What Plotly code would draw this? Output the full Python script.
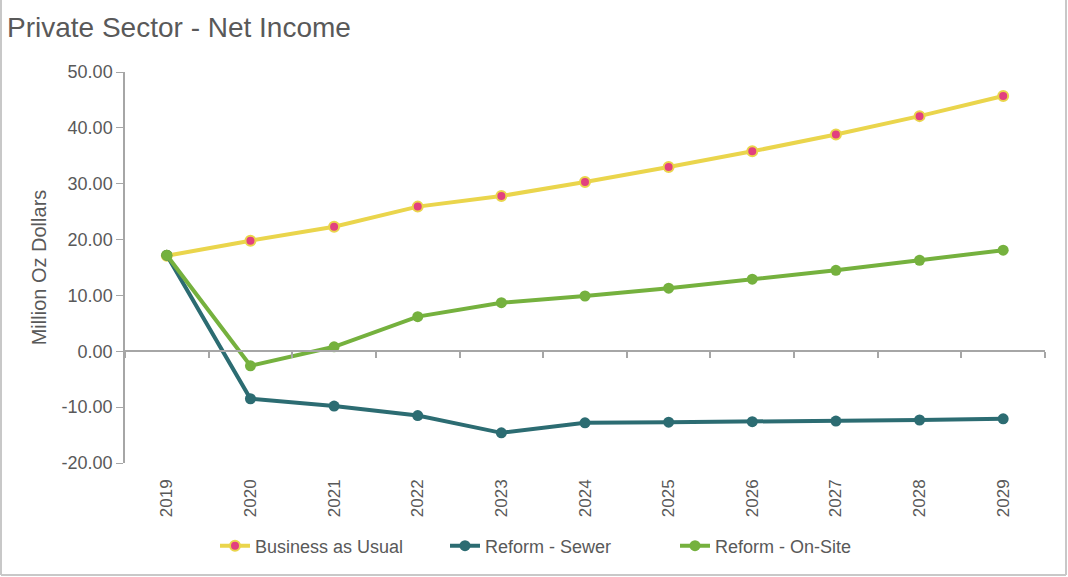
import plotly.graph_objects as go

years = ["2019", "2020", "2021", "2022", "2023", "2024", "2025", "2026", "2027", "2028", "2029"]
bau = [17.1, 19.8, 22.3, 25.9, 27.8, 30.3, 33.0, 35.8, 38.8, 42.1, 45.7]
sewer = [17.2, -8.5, -9.8, -11.5, -14.6, -12.8, -12.7, -12.6, -12.5, -12.3, -12.1]
onsite = [17.2, -2.6, 0.8, 6.2, 8.7, 9.9, 11.3, 12.9, 14.5, 16.3, 18.1]
y_ticks = [-20, -10, 0, 10, 20, 30, 40, 50]
y_tick_text = ["-20.00", "-10.00", "0.00", "10.00", "20.00", "30.00", "40.00", "50.00"]

GRAY_TXT = "#595959"
AXIS = "#A6A6A6"
W, H = 1068, 577
ML, MR, MT, MB = 125, 23, 72, 114
PW, PH = W - ML - MR, H - MT - MB
YMIN, YMAX = -20, 50

fig = go.Figure()
fig.add_trace(go.Scatter(
    x=years, y=bau, name="Business as Usual", mode="lines+markers",
    line=dict(color="#EAD54C", width=4),
    marker=dict(color="#E2407F", size=10, line=dict(color="#EAD54C", width=2)),
))
fig.add_trace(go.Scatter(
    x=years, y=sewer, name="Reform - Sewer", mode="lines+markers",
    line=dict(color="#2C6C72", width=4),
    marker=dict(color="#2C6C72", size=11),
))
fig.add_trace(go.Scatter(
    x=years, y=onsite, name="Reform - On-Site", mode="lines+markers",
    line=dict(color="#75B13E", width=4),
    marker=dict(color="#75B13E", size=11),
))
# helper trace so the zero-line axis renders
fig.add_trace(go.Scatter(x=years, y=[None] * len(years), xaxis="x2", showlegend=False,
                         hoverinfo="skip"))

zero_pos = (0 - YMIN) / (YMAX - YMIN)

fig.update_layout(
    width=W, height=H,
    margin=dict(l=ML, r=MR, t=MT, b=MB, autoexpand=False),
    paper_bgcolor="white", plot_bgcolor="white",
    font=dict(family="Liberation Sans, Arial, sans-serif", color=GRAY_TXT, size=18),
    title=dict(text="Private Sector - Net Income", x=7 / W, xanchor="left",
               yref="container", y=1 - 27 / H, yanchor="middle",
               font=dict(size=28, color=GRAY_TXT)),
    xaxis=dict(type="category", showline=False, showgrid=False, zeroline=False,
               tickangle=-90, ticks="", ticklabelstandoff=12, automargin=False,
               tickfont=dict(size=17, color=GRAY_TXT), range=[-0.5, 10.5]),
    xaxis2=dict(type="category", overlaying="x", anchor="free", position=zero_pos,
                side="bottom", showline=True, linecolor=AXIS, linewidth=2,
                ticks="outside", tickson="boundaries", ticklen=6, tickcolor=AXIS,
                tickwidth=1.5, showticklabels=False, showgrid=False, automargin=False,
                range=[-0.5, 10.5], matches="x"),
    yaxis=dict(range=[YMIN, YMAX], tickvals=y_ticks, ticktext=y_tick_text, showgrid=False,
               zeroline=False, showline=True, linecolor=AXIS, linewidth=1.5,
               ticks="outside", ticklen=7, tickcolor=AXIS, automargin=False,
               tickfont=dict(size=18, color=GRAY_TXT),
               title=dict(text="Million Oz Dollars", font=dict(size=20, color=GRAY_TXT),
                          standoff=10)),
    legend=dict(orientation="h", x=215 / W, xanchor="left",
                xref="container", yref="container",
                y=1 - 546 / H, yanchor="middle",
                font=dict(size=18, color=GRAY_TXT),
                entrywidth=185, entrywidthmode="pixels",
                traceorder="normal"),
    showlegend=True,
)

# outer border
bx0 = (1 - ML) / PW
bx1 = (W - 2 - ML) / PW
by0 = -(H - 2 - (MT + PH)) / PH
by1 = (PH + MT) / PH
for x0, y0, x1, y1 in [(bx0, by0, bx0, by1), (bx1, by0, bx1, by1), (bx0, by0, bx1, by0)]:
    fig.add_shape(type="line", xref="paper", yref="paper", x0=x0, y0=y0, x1=x1, y1=y1,
                  line=dict(color="#C8C8C8", width=2))

fig.write_html("out.html")
